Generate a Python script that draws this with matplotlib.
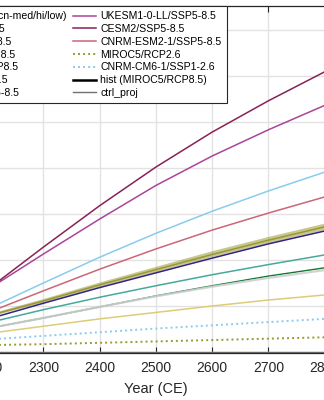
import matplotlib.pyplot as plt
import numpy as np

plt.rcParams['font.family'] = ['Liberation Sans', 'DejaVu Sans']

# years shown on the (cropped) time axis
years = [2200, 2300, 2400, 2500, 2600, 2700, 2800]

# right legend column
ukesm = [1.35, 2.13, 2.89, 3.62, 4.26, 4.83, 5.36]
cesm2 = [1.35, 2.28, 3.18, 4.02, 4.78, 5.46, 6.09]
cnrm_esm = [0.85, 1.33, 1.80, 2.24, 2.65, 3.02, 3.37]
miroc_26 = [0.15, 0.17, 0.20, 0.23, 0.26, 0.29, 0.32]
cnrm_cm6 = [0.27, 0.35, 0.43, 0.51, 0.58, 0.65, 0.72]
hist_years = [1850, 1900, 1950, 2005]
hist_vals = [0.0, 0.0, 0.01, 0.03]
ctrl = [0, 0, 0, 0, 0, 0, 0]

# left legend column
band_med = [0.78, 1.11, 1.46, 1.79, 2.12, 2.43, 2.72]
band_low = [0.75, 1.07, 1.41, 1.73, 2.06, 2.36, 2.65]
band_high = [0.81, 1.15, 1.51, 1.85, 2.19, 2.50, 2.79]
sand = [0.40, 0.56, 0.72, 0.86, 1.00, 1.13, 1.24]
grey_l = [0.51, 0.74, 0.98, 1.21, 1.42, 1.61, 1.78]
indigo = [0.71, 1.06, 1.40, 1.72, 2.04, 2.35, 2.63]
teal = [0.63, 0.92, 1.19, 1.44, 1.68, 1.90, 2.11]
green = [0.51, 0.74, 0.98, 1.22, 1.44, 1.65, 1.83]
cyan = [0.93, 1.50, 2.06, 2.58, 3.06, 3.50, 3.91]

fig = plt.figure(figsize=(3.24, 4.0), dpi=100)
ax = fig.add_axes([-24.1/324, 47.3/400, 360.1/324, 347.2/400])

lw = 1.1
dot = (0, (1, 1.6))

ax.fill_between(years, band_low, band_high, color='#999933', alpha=0.55, lw=0)
h1, = ax.plot(years, band_med, color='#999933', lw=lw)
h2, = ax.plot(years, sand, color='#DDCC77', lw=lw)
h6, = ax.plot(years, green, color='#117733', lw=1.0)
h3, = ax.plot(years, grey_l, color='#CFCFCF', lw=1.6, alpha=0.9)
h4, = ax.plot(years, indigo, color='#332288', lw=lw)
h5, = ax.plot(years, teal, color='#44AA99', lw=lw)
h7, = ax.plot(years, cyan, color='#88CCEE', lw=lw)

r1, = ax.plot(years, ukesm, color='#AA4499', lw=lw)
r2, = ax.plot(years, cesm2, color='#882255', lw=lw)
r3, = ax.plot(years, cnrm_esm, color='#CC6677', lw=lw)
r4, = ax.plot(years, miroc_26, color='#999933', lw=1.4, ls=dot)
r5, = ax.plot(years, cnrm_cm6, color='#88CCEE', lw=1.4, ls=dot)
r6, = ax.plot(hist_years, hist_vals, color='black', lw=1.8)
r7, = ax.plot(years, ctrl, color='#707070', lw=1.0, clip_on=False)

ax.set_xlim(2180, 2820)
ax.set_ylim(-0.015, 7.53)
ax.set_xticks(range(2200, 2801, 100))
ax.set_yticks(range(0, 8))
ax.grid(True, color='#E2E2E2', lw=1.0)
ax.set_axisbelow(True)
ax.tick_params(axis='x', top=True, direction='in', length=4, width=0.8,
               labelsize=10, pad=6, colors='#262626')
ax.tick_params(axis='y', right=True, direction='in', length=4)
for s in ax.spines.values():
    s.set_color('#262626')
    s.set_linewidth(0.9)
ax.set_xlabel('Year (CE)', fontsize=10.5, color='#262626', labelpad=5)

handles = [h1, h2, h3, h4, h5, h6, h7, r1, r2, r3, r4, r5, r6, r7]
labels = ['MIROC5/RCP8.5 (Ocn-med/hi/low)', 'MPI-ESM-LR/RCP4.5',
          'GFDL-ESM4/SSP5-8.5', 'IPSL-CM5A-LR/RCP8.5', 'IPSL-CM5A-MR/RCP8.5',
          'MPI-ESM-MR/RCP4.5', 'ACCESS-CM2/SSP5-8.5',
          'UKESM1-0-LL/SSP5-8.5', 'CESM2/SSP5-8.5', 'CNRM-ESM2-1/SSP5-8.5',
          'MIROC5/RCP2.6', 'CNRM-CM6-1/SSP1-2.6', 'hist (MIROC5/RCP8.5)',
          'ctrl_proj']
leg = ax.legend(handles, labels, ncol=2, loc='upper right',
                bbox_to_anchor=(227/324, 1 - 6/400),
                bbox_transform=fig.transFigure,
                fontsize=7.6, handlelength=2.2, handletextpad=0.4,
                columnspacing=0.6, labelspacing=0.265, borderpad=0.5,
                borderaxespad=0, fancybox=False, framealpha=1,
                edgecolor='#262626')
leg.get_frame().set_linewidth(0.8)

fig.savefig('out.png', dpi=100)
